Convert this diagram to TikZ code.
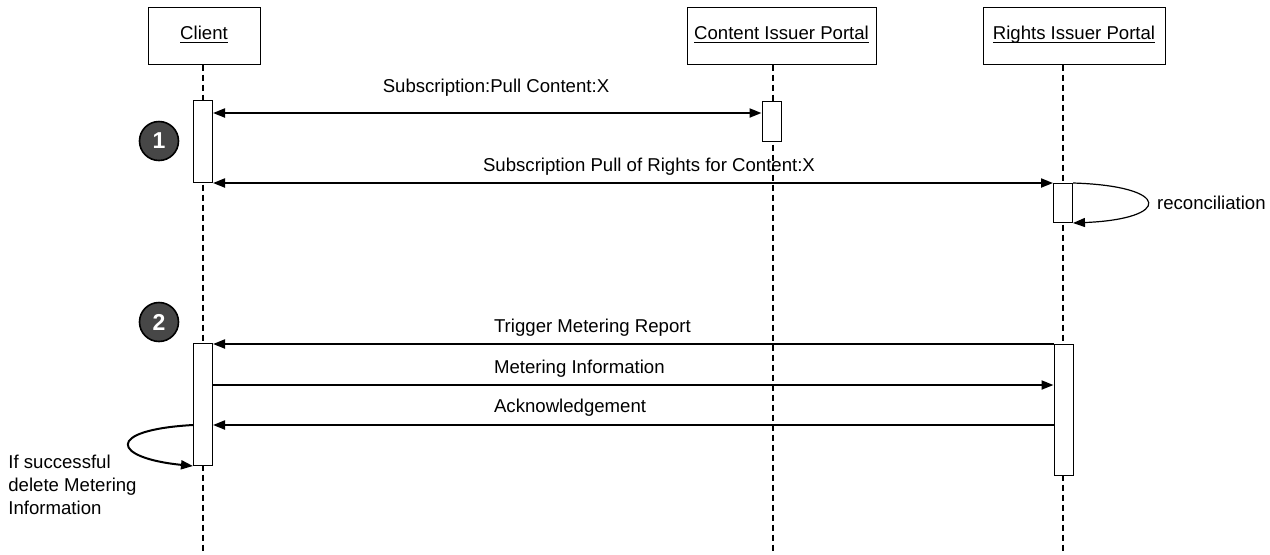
\documentclass[tikz,border=0pt]{standalone}
\usepackage{fontspec}
\setmainfont{Liberation Sans}
\usetikzlibrary{arrows.meta}
\usetikzlibrary{positioning}

\newcommand{\actorname}[1]{\underline{\smash{#1}}}

\begin{document}
\begin{tikzpicture}[x=0.5pt,y=-0.5pt,
  font=\fontsize{9.3}{11.5}\selectfont,
  >={Triangle[length=6pt,width=4.5pt]},
  actor/.style={draw,line width=0.5pt,minimum width=#1,minimum height=28.5pt,inner sep=0pt,
    text height=6.7pt,text depth=2.5pt},
  act/.style={draw,fill=white,line width=0.5pt,minimum width=9.5pt,inner sep=0pt,anchor=north},
  life/.style={dash pattern=on 3pt off 2pt,line width=0.6pt},
  msg/.style={line width=1pt},
  num/.style={circle,draw,line width=0.8pt,fill=black!72,text=white,minimum size=19.5pt,inner sep=0pt,
    font=\fontsize{11.5}{11.5}\selectfont\bfseries}]
  \useasboundingbox (0,0) rectangle (1270,554);

  % actors
  \node[actor=56pt] (client) at (204,35.5) {\actorname{Client}};
  \node[actor=94.5pt] (cip) at (781.5,35.5) {\actorname{Content Issuer Portal}};
  \node[actor=91pt] (rip) at (1074,35.5) {\actorname{Rights Issuer Portal}};

  % lifelines
  \coordinate (clientEnd) at (203,554);
  \coordinate (cipEnd) at (773,554);
  \coordinate (ripEnd) at (1063,554);
  \draw[life] (client.south -| clientEnd) -- (clientEnd);
  \draw[life] (cip.south -| cipEnd) -- (cipEnd);
  \draw[life] (rip.south -| ripEnd) -- (ripEnd);

  % activations
  \node[act,minimum height=41pt] (c1) at (203,100) {};
  \node[act,minimum height=20pt] (p1) at (771.5,101) {};
  \node[act,minimum height=19.5pt] (r1) at (1063,183) {};
  \node[act,minimum height=61pt] (c2) at (203,343) {};
  \node[act,minimum height=65.5pt] (r2) at (1063.5,344) {};

  % step numbers
  \node[num] (n1) at (159,141) {1};
  \node[num] (n2) at (159,322) {2};

  % phase 1
  \draw[msg,<->] (c1.east |- 0,113) -- (p1.west |- 0,113);
  \node (m1) at (496,88) {Subscription:Pull Content:X};
  \draw[msg,<->] (c1.south east) -- (c1.south east -| r1.west);
  \node (m2) at (649,167) {Subscription Pull of Rights for Content:X};
  \draw[line width=0.6pt,->] (r1.north east) .. controls (1172,186) and (1172,219) .. (r1.south east);
  \node[anchor=west] (recon) at (1150,203) {reconciliation};

  % phase 2
  \draw[msg,->] (r2.north west) -- (r2.north west -| c2.east);
  \node[anchor=west] (m3) at (487,328) {Trigger Metering Report};
  \draw[msg,->] (c2.east |- 0,385) -- (r2.west |- 0,385);
  \node[anchor=west] (m4) at (487,369) {Metering Information};
  \draw[msg,->] (r2.west |- 0,425) -- (c2.east |- 0,425);
  \node[anchor=west] (m5) at (487,408) {Acknowledgement};
  \draw[msg,->] (c2.west |- 0,425) .. controls (104,430) and (112,458) .. (c2.south west);
  \node[anchor=north west,align=left,inner sep=0pt] (note) at (8,455) {If successful\\delete Metering\\Information};

\end{tikzpicture}
\end{document}
